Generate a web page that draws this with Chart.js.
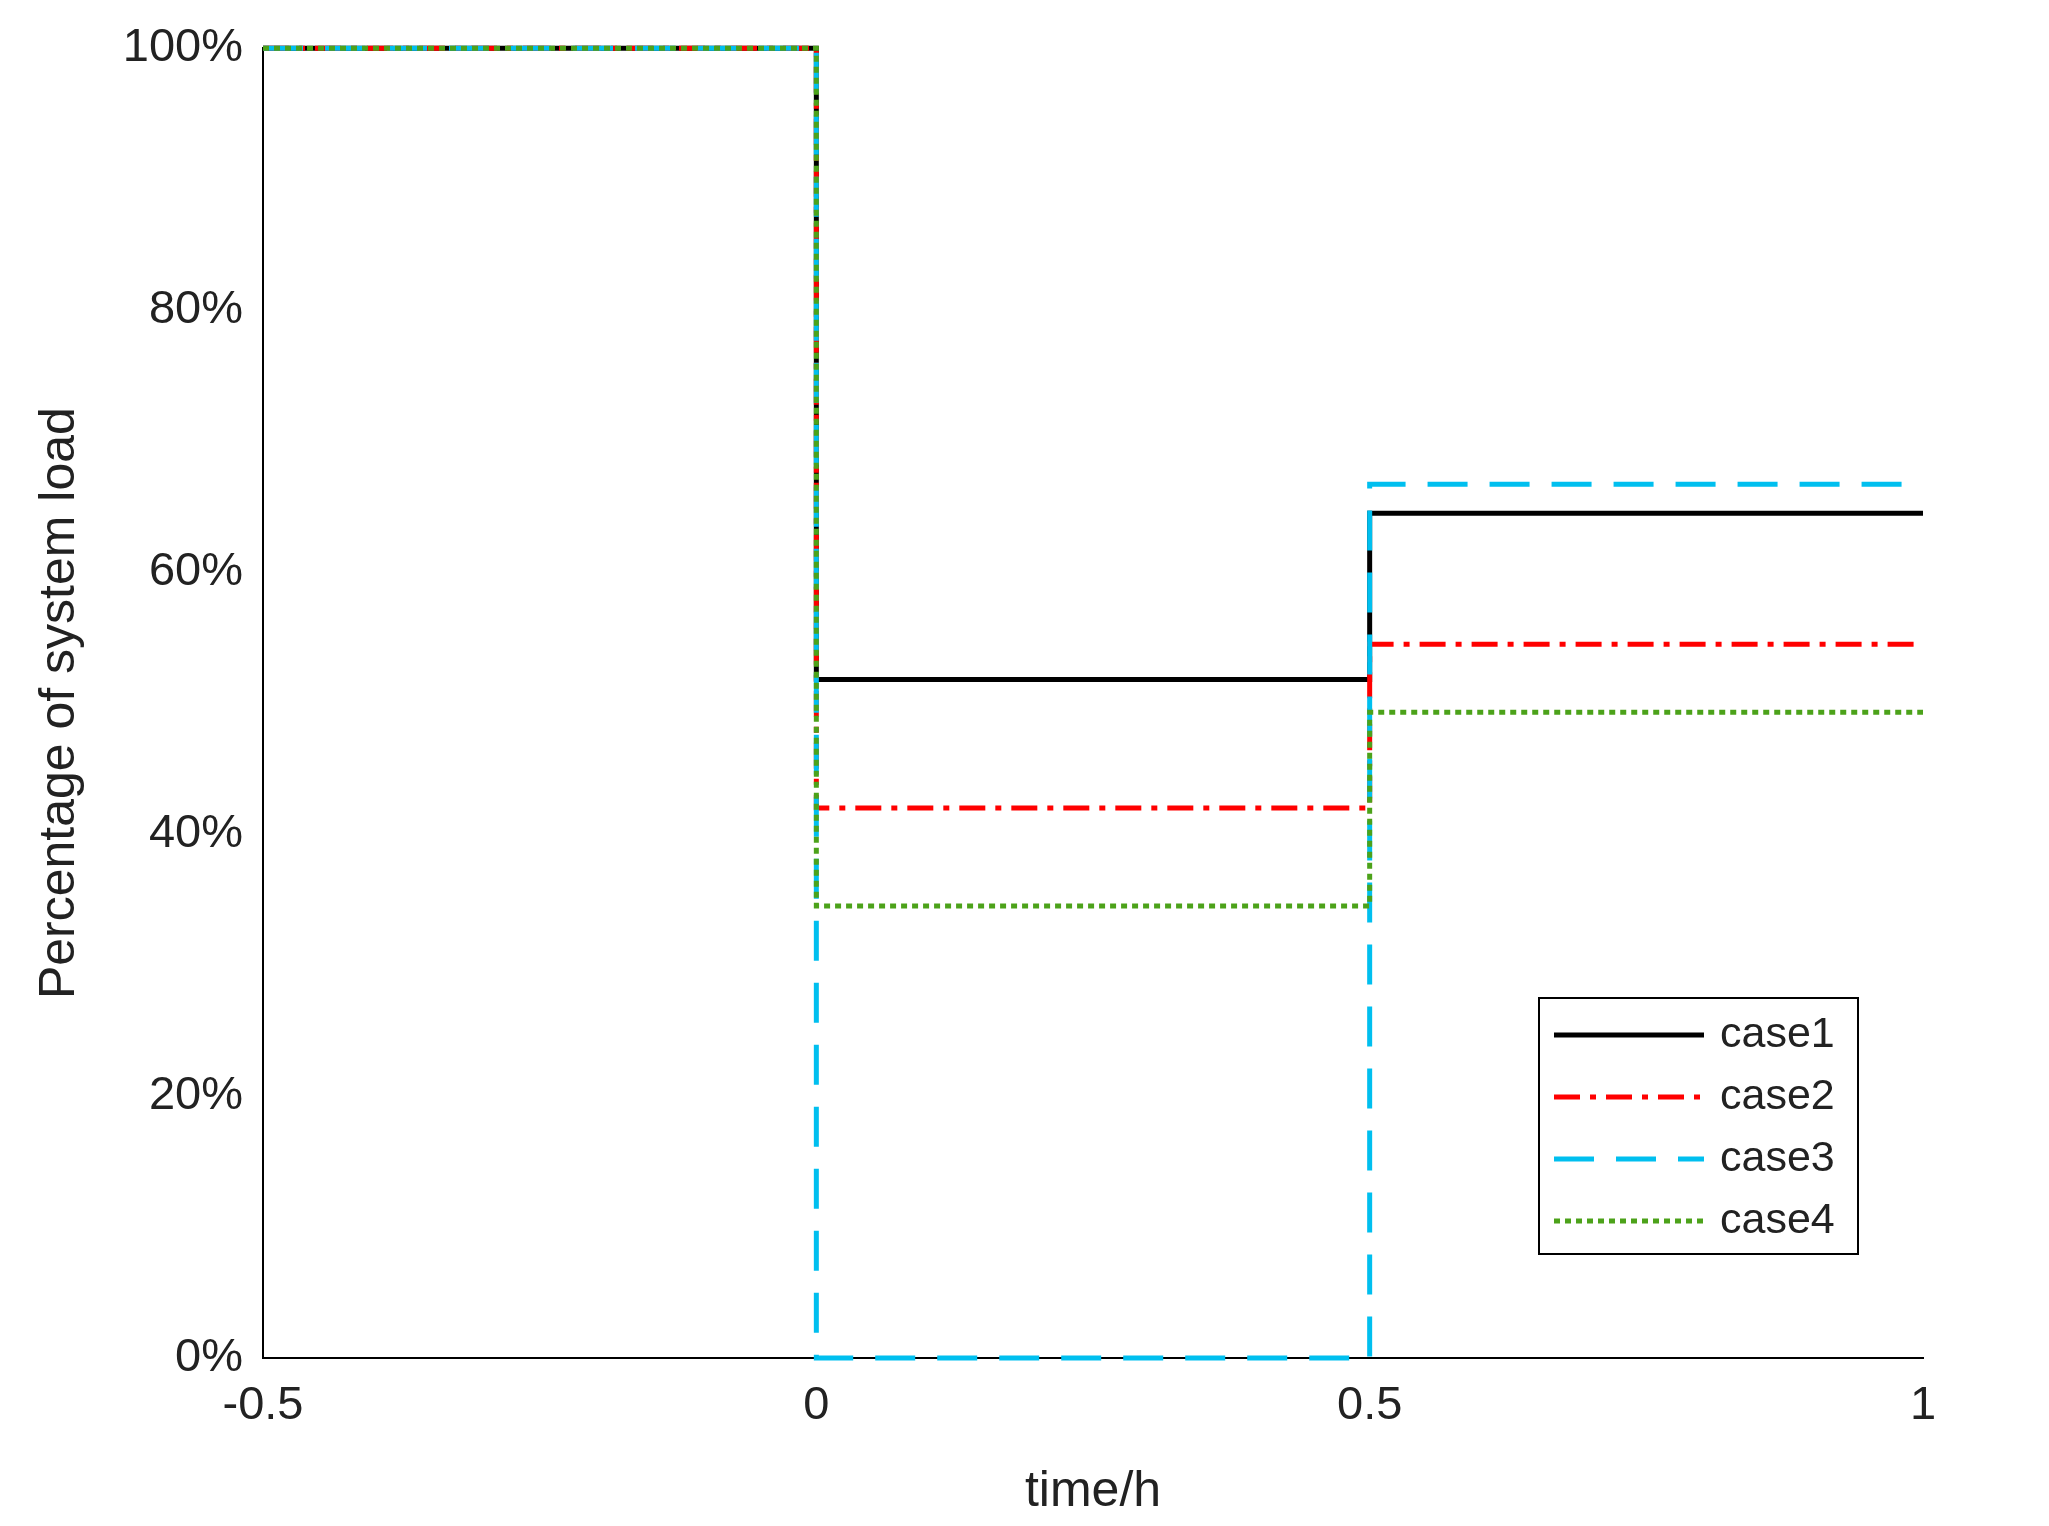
<!DOCTYPE html>
<html><head><meta charset="utf-8">
<script src="https://cdn.jsdelivr.net/npm/chart.js@4/dist/chart.umd.min.js"></script>
<style>html,body{margin:0;padding:0;background:#fff}#w{width:2049px;height:1526px}</style>
</head><body><div id="w"><canvas id="c" width="2049" height="1526"></canvas></div>
<script>
const times = [-0.5, 0, 0.5, 1];
const labels = ['case1','case2','case3','case4'];
const case1 = [100, 51.8, 64.5, 64.5];
const case2 = [100, 42, 54.5, 54.5];
const case3 = [100, 0, 66.7, 66.7];
const case4 = [100, 34.5, 49.3, 49.3];
const xTicks = [-0.5, 0, 0.5, 1];
const yTicks = [0, 20, 40, 60, 80, 100];

const styles = [
  {c:'#000000', d:[]},
  {c:'#ff0000', d:[26,10,6,10]},
  {c:'#00bfef', d:[40,22]},
  {c:'#4ca21a', d:[6,5]}
];
const series = [case1, case2, case3, case4];
const datasets = series.map((s,i)=>({
  label: labels[i],
  data: s.map((v,j)=>({x:times[j], y:v})),
  stepped: 'before',
  order: 3 - i,
  borderColor: styles[i].c, borderDash: styles[i].d, borderWidth: 5,
  pointRadius: 0, fill: false, clip: false
}));

const legendPlugin = {
  id: 'boxLegend',
  afterDraw(chart) {
    const ctx = chart.ctx;
    const x0 = 1539, y0 = 998, w = 319, h = 256;
    ctx.save();
    ctx.fillStyle = '#fff'; ctx.fillRect(x0, y0, w, h);
    ctx.strokeStyle = '#000'; ctx.lineWidth = 2; ctx.strokeRect(x0, y0, w, h);
    ctx.font = '43px "Liberation Sans", Arial, sans-serif';
    ctx.textBaseline = 'middle';
    chart.data.datasets.forEach((ds, i) => {
      const y = y0 + 37 + i * 62;
      ctx.beginPath();
      ctx.setLineDash(ds.borderDash); ctx.lineWidth = 5; ctx.strokeStyle = ds.borderColor;
      ctx.moveTo(x0 + 15, y); ctx.lineTo(x0 + 165, y); ctx.stroke();
      ctx.setLineDash([]);
      ctx.fillStyle = '#222'; ctx.fillText(ds.label, x0 + 181, y);
    });
    ctx.restore();
  }
};

new Chart(document.getElementById('c'), {
  type: 'line',
  data: { datasets },
  options: {
    responsive: false, animation: false,
    layout: { padding: { left: 26, top: 40, right: 126, bottom: 0 } },
    plugins: { legend: { display: false }, tooltip: { enabled: false } },
    scales: {
      x: {
        type: 'linear', min: -0.5, max: 1,
        afterBuildTicks: s => { s.ticks = xTicks.map(v => ({value: v})); },
        afterFit: s => { s.height = 168; },
        grid: { display: false, drawTicks: false },
        border: { color: '#000', width: 2 },
        ticks: { color: '#222', padding: 20, font: { size: 47, family: '"Liberation Sans", Arial' }, callback: v => String(v) },
        title: { display: true, text: 'time/h', color: '#222', padding: { top: 12 }, font: { size: 50, family: '"Liberation Sans", Arial' } }
      },
      y: {
        min: 0, max: 100,
        afterBuildTicks: s => { s.ticks = yTicks.map(v => ({value: v})); },
        afterFit: s => { s.width = 237; },
        grid: { display: false, drawTicks: false },
        border: { color: '#000', width: 2 },
        ticks: { color: '#222', padding: 20, font: { size: 47, family: '"Liberation Sans", Arial' }, callback: v => v + '%' },
        title: { display: true, text: 'Percentage of system load', color: '#222', padding: { bottom: 10 }, font: { size: 50, family: '"Liberation Sans", Arial' } }
      }
    }
  },
  plugins: [legendPlugin]
});
</script></body></html>
